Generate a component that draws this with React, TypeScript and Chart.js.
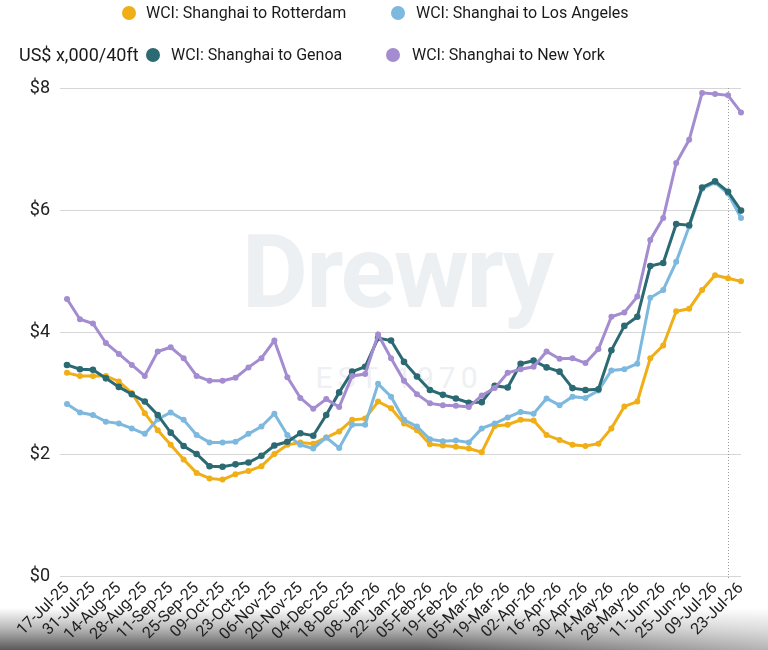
import React, { useEffect, useRef } from "react";
import { Chart, registerables } from "chart.js";

Chart.register(...registerables);

const weekLabels = [
  "17-Jul-25", "24-Jul-25", "31-Jul-25", "07-Aug-25", "14-Aug-25", "21-Aug-25", "28-Aug-25",
  "04-Sep-25", "11-Sep-25", "18-Sep-25", "25-Sep-25", "02-Oct-25", "09-Oct-25", "16-Oct-25",
  "23-Oct-25", "30-Oct-25", "06-Nov-25", "13-Nov-25", "20-Nov-25", "27-Nov-25", "04-Dec-25",
  "11-Dec-25", "18-Dec-25", "25-Dec-25", "08-Jan-26", "15-Jan-26", "22-Jan-26", "29-Jan-26",
  "05-Feb-26", "12-Feb-26", "19-Feb-26", "26-Feb-26", "05-Mar-26", "12-Mar-26", "19-Mar-26",
  "26-Mar-26", "02-Apr-26", "09-Apr-26", "16-Apr-26", "23-Apr-26", "30-Apr-26", "07-May-26",
  "14-May-26", "21-May-26", "28-May-26", "04-Jun-26", "11-Jun-26", "18-Jun-26", "25-Jun-26",
  "02-Jul-26", "09-Jul-26", "16-Jul-26", "23-Jul-26",
];

const rotterdam = [
  3.33, 3.28, 3.28, 3.28, 3.19, 3.0, 2.67, 2.39, 2.15, 1.91, 1.69, 1.6, 1.58, 1.67, 1.72, 1.8,
  2.0, 2.15, 2.19, 2.17, 2.27, 2.37, 2.56, 2.58, 2.86, 2.75, 2.5, 2.39, 2.16, 2.14, 2.12, 2.09,
  2.03, 2.46, 2.48, 2.56, 2.55, 2.31, 2.23, 2.15, 2.13, 2.17, 2.42, 2.78, 2.86, 3.57, 3.78, 4.34,
  4.38, 4.69, 4.93, 4.88, 4.83,
];

const losAngeles = [
  2.82, 2.68, 2.64, 2.53, 2.5, 2.42, 2.33, 2.57, 2.68, 2.56, 2.31, 2.19, 2.19, 2.2, 2.33, 2.45,
  2.66, 2.31, 2.15, 2.09, 2.27, 2.1, 2.48, 2.48, 3.15, 2.94, 2.56, 2.45, 2.24, 2.21, 2.22, 2.19,
  2.42, 2.5, 2.6, 2.69, 2.66, 2.91, 2.8, 2.94, 2.92, 3.04, 3.37, 3.39, 3.48, 4.56, 4.69, 5.15,
  5.73, 6.35, 6.45, 6.27, 5.87,
];

const genoa = [
  3.46, 3.39, 3.38, 3.24, 3.1, 2.98, 2.86, 2.64, 2.35, 2.13, 2.0, 1.8, 1.79, 1.83, 1.86, 1.97,
  2.14, 2.2, 2.34, 2.3, 2.64, 3.01, 3.35, 3.43, 3.9, 3.86, 3.51, 3.27, 3.05, 2.97, 2.91, 2.84,
  2.85, 3.12, 3.09, 3.48, 3.53, 3.42, 3.35, 3.08, 3.05, 3.06, 3.7, 4.1, 4.25, 5.08, 5.13, 5.77,
  5.75, 6.37, 6.47, 6.3, 5.99,
];

const newYork = [
  4.54, 4.21, 4.14, 3.82, 3.64, 3.46, 3.28, 3.68, 3.75, 3.57, 3.28, 3.2, 3.2, 3.25, 3.42, 3.57,
  3.86, 3.26, 2.92, 2.74, 2.9, 2.77, 3.28, 3.31, 3.96, 3.57, 3.2, 2.98, 2.83, 2.8, 2.79, 2.77,
  2.96, 3.08, 3.33, 3.39, 3.43, 3.68, 3.56, 3.57, 3.49, 3.72, 4.25, 4.32, 4.58, 5.51, 5.87, 6.77,
  7.15, 7.92, 7.9, 7.88, 7.6,
];

const yTicks = [0, 2, 4, 6, 8];
const markerIndex = 51;

const seriesNames = [
  "WCI: Shanghai to Rotterdam",
  "WCI: Shanghai to Los Angeles",
  "WCI: Shanghai to Genoa",
  "WCI: Shanghai to New York",
];
const seriesColors = ["#F0AE17", "#7DB8DF", "#2B6A73", "#A48CD0"];
const axisTitle = "US$ x,000/40ft";

const markerPlugin = {
  id: "markerLine",
  beforeDatasetsDraw(chart: any) {
    const { ctx, chartArea, scales } = chart;
    const x = Math.round(scales.x.getPixelForValue(markerIndex)) + 0.5;
    ctx.save();
    ctx.strokeStyle = "#9a9a9a";
    ctx.lineWidth = 1;
    ctx.setLineDash([1, 2]);
    ctx.beginPath();
    ctx.moveTo(x, chartArea.top);
    ctx.lineTo(x, chartArea.bottom + 2);
    ctx.stroke();
    ctx.restore();
  },
};

export default function App() {
  const canvasRef = useRef<HTMLCanvasElement | null>(null);

  useEffect(() => {
    if (!canvasRef.current) return;
    Chart.defaults.font.family = "Roboto, 'Liberation Sans', sans-serif";
    const data = [rotterdam, losAngeles, genoa, newYork];
    const drawOrder = [4, 3, 2, 1];
    const chart = new Chart(canvasRef.current, {
      type: "line",
      data: {
        labels: weekLabels,
        datasets: data.map((vals, i) => ({
          label: seriesNames[i],
          data: vals,
          borderColor: seriesColors[i],
          backgroundColor: seriesColors[i],
          pointBackgroundColor: seriesColors[i],
          pointBorderColor: seriesColors[i],
          borderWidth: 3,
          pointRadius: i === 2 ? 3.3 : 3,
          pointBorderWidth: 0,
          tension: 0,
          fill: false,
          order: drawOrder[i],
        })),
      },
      options: {
        animation: false,
        responsive: false,
        events: [],
        layout: { padding: { top: 88, right: 27, left: 0, bottom: 0 } },
        plugins: { legend: { display: false }, tooltip: { enabled: false }, title: { display: false } },
        scales: {
          x: {
            type: "category",
            offset: false,
            grid: { display: false, drawTicks: false },
            border: { display: false },
            ticks: {
              autoSkip: false,
              maxRotation: 45,
              minRotation: 45,
              padding: 3,
              color: "#1e1e1e",
              font: { size: 16 },
              callback: (_v: any, i: number) => (i % 2 === 0 ? weekLabels[i] : ""),
            },
            afterFit: (s: any) => {
              s.height = 74;
            },
          },
          y: {
            min: yTicks[0],
            max: yTicks[yTicks.length - 1],
            afterBuildTicks: (s: any) => {
              s.ticks = yTicks.map((v) => ({ value: v }));
            },
            ticks: {
              padding: 10,
              color: "#222",
              font: { size: 18 },
              callback: (v: any) => "$" + v,
            },
            grid: { color: "#d6d6d6", lineWidth: 1, tickLength: 7, drawTicks: true, tickColor: "#d6d6d6" },
            border: { display: false },
            afterFit: (s: any) => {
              s.width = 67;
            },
          },
        },
      },
      plugins: [markerPlugin],
    });
    return () => chart.destroy();
  }, []);

  const legendFont = "Roboto, 'Liberation Sans', sans-serif";
  const dot = (color: string, cx: number, cy: number) => (
    <span
      style={{
        position: "absolute",
        left: cx - 7,
        top: cy - 7,
        width: 14,
        height: 14,
        borderRadius: "50%",
        background: color,
      }}
    />
  );
  const label = (text: string, x: number, cy: number, size = 16) => (
    <span
      style={{
        position: "absolute",
        left: x,
        top: cy - size * 0.62,
        fontSize: size,
        lineHeight: 1.2 + "",
        color: "#1a1a1a",
        whiteSpace: "nowrap",
        fontFamily: legendFont,
      }}
    >
      {text}
    </span>
  );

  return (
    <div
      style={{
        position: "fixed",
        left: 0,
        top: 0,
        width: 768,
        height: 650,
        background: "#fff",
        overflow: "hidden",
        fontFamily: legendFont,
      }}
    >
      <div
        style={{
          position: "absolute",
          left: 0,
          top: 608,
          width: 768,
          height: 42,
          background:
            "linear-gradient(to right, rgba(255,255,255,0) 0%, rgba(255,255,255,0) 55%, rgba(255,255,255,0.55) 100%), linear-gradient(to bottom, rgba(255,255,255,0) 0%, rgba(150,150,150,0.7) 50%, rgba(80,80,80,0.95) 100%)",
        }}
      />
      <div
        style={{
          position: "absolute",
          left: 0,
          width: 768,
          top: 212,
          textAlign: "center",
          paddingLeft: 26,
          boxSizing: "border-box",
          fontSize: 102,
          fontWeight: 700,
          color: "#EDF0F3",
          letterSpacing: -2,
          lineHeight: "120px",
        }}
      >
        Drewry
      </div>
      <div
        style={{
          position: "absolute",
          left: 0,
          width: 768,
          top: 360,
          textAlign: "center",
          paddingLeft: 30,
          boxSizing: "border-box",
          fontSize: 30,
          color: "#EEF0F2",
          letterSpacing: 5,
          lineHeight: "36px",
        }}
      >
        EST 1970
      </div>
      <canvas
        ref={canvasRef}
        width={768}
        height={650}
        style={{ position: "absolute", left: 0, top: 0, width: 768, height: 650 }}
      />
      {dot(seriesColors[0], 129, 13)}
      {label(seriesNames[0], 146, 13)}
      {dot(seriesColors[1], 398, 13)}
      {label(seriesNames[1], 416, 13)}
      {label(axisTitle, 19, 55, 18)}
      {dot(seriesColors[2], 153, 55)}
      {label(seriesNames[2], 171, 55)}
      {dot(seriesColors[3], 393, 55)}
      {label(seriesNames[3], 412, 55)}
    </div>
  );
}
